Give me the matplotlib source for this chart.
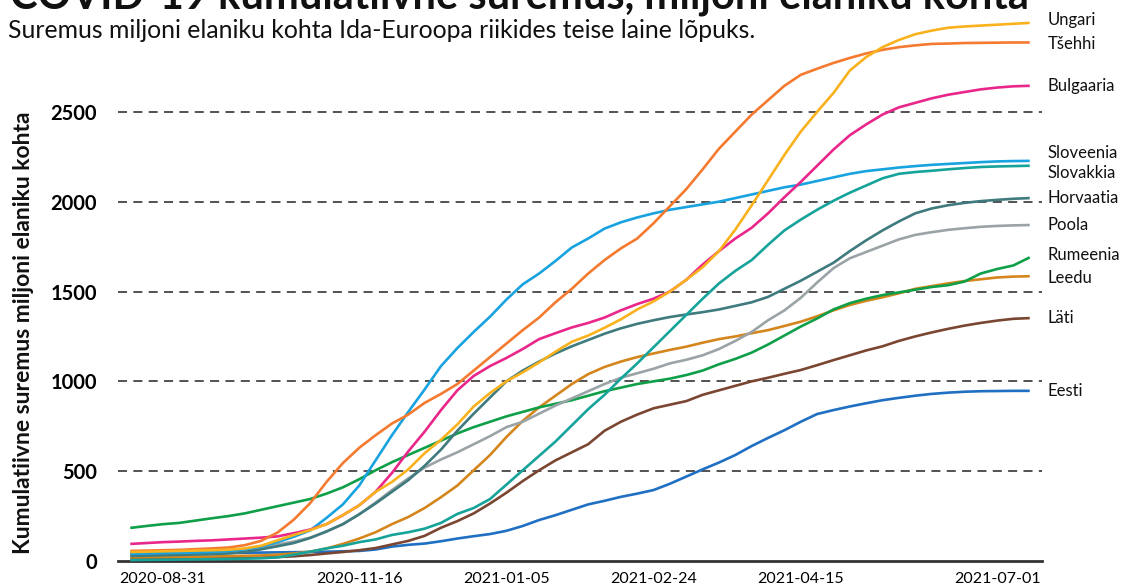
import matplotlib
matplotlib.use("Agg")
import matplotlib.pyplot as plt

plt.rcParams['font.family'] = ['Lato', 'DejaVu Sans']

# ---- data ----
dates = ["2020-08-19", "2020-08-25",
         "2020-08-31", "2020-09-07", "2020-09-13", "2020-09-20", "2020-09-26", "2020-10-03",
         "2020-10-09", "2020-10-16", "2020-10-22", "2020-10-29", "2020-11-04", "2020-11-10",
         "2020-11-16", "2020-11-22", "2020-11-27", "2020-12-03", "2020-12-08", "2020-12-14",
         "2020-12-19", "2020-12-25", "2020-12-30",
         "2021-01-05", "2021-01-11", "2021-01-16", "2021-01-22", "2021-01-27", "2021-02-02",
         "2021-02-07", "2021-02-13", "2021-02-18",
         "2021-02-24", "2021-03-02", "2021-03-07", "2021-03-13", "2021-03-18", "2021-03-24",
         "2021-03-29", "2021-04-04", "2021-04-09",
         "2021-04-15", "2021-04-22", "2021-04-28", "2021-05-05", "2021-05-11", "2021-05-18",
         "2021-05-24", "2021-05-31", "2021-06-06", "2021-06-13", "2021-06-19", "2021-06-25",
         "2021-07-01", "2021-07-07", "2021-07-13"]

tick_dates = ["2020-08-31", "2020-11-16", "2021-01-05", "2021-02-24", "2021-04-15", "2021-07-01"]

ungari = [50, 52, 54, 56, 58, 60, 63, 70, 85, 115, 145, 172, 205, 255, 310, 385, 440, 510,
          600, 675, 760, 860, 935, 1000, 1050, 1105, 1165, 1220, 1255, 1298, 1345, 1400,
          1445, 1500, 1565, 1635, 1725, 1845, 1980, 2120, 2260, 2390, 2500, 2605, 2730,
          2805, 2860, 2900, 2932, 2952, 2968, 2975, 2980, 2985, 2990, 2995]
tsehhi = [56, 58, 60, 62, 66, 70, 75, 88, 112, 158, 230, 322, 440, 545, 630, 700, 765, 815,
          880, 930, 985, 1060, 1135, 1210, 1285, 1355, 1440, 1515, 1600, 1675, 1740, 1795,
          1880, 1975, 2070, 2180, 2295, 2390, 2485, 2565, 2645, 2706, 2740, 2772, 2800,
          2825, 2845, 2860, 2870, 2878, 2880, 2883, 2884, 2885, 2886, 2886]
bulgaaria = [95, 100, 105, 108, 112, 115, 120, 125, 130, 137, 155, 175, 205, 255, 310, 385,
             490, 610, 720, 840, 950, 1030, 1085, 1130, 1180, 1235, 1268, 1300, 1325, 1355,
             1395, 1430, 1460, 1500, 1565, 1650, 1725, 1795, 1855, 1935, 2025, 2110, 2200,
             2290, 2370, 2430, 2485, 2525, 2550, 2575, 2595, 2610, 2625, 2635, 2642, 2645]
sloveenia = [40, 42, 44, 46, 48, 50, 55, 65, 80, 105, 135, 170, 240, 315, 420, 560, 700, 830,
             955, 1085, 1185, 1275, 1360, 1455, 1540, 1600, 1670, 1745, 1795, 1850, 1885,
             1912, 1935, 1955, 1970, 1985, 2000, 2020, 2040, 2060, 2080, 2095, 2115, 2135,
             2155, 2170, 2180, 2190, 2198, 2205, 2210, 2215, 2220, 2224, 2226, 2227]
slovakkia = [5, 6, 7, 8, 9, 10, 11, 13, 15, 20, 35, 52, 70, 85, 105, 120, 145, 160, 180, 212,
             262, 295, 345, 425, 505, 585, 665, 755, 845, 925, 1015, 1100, 1190, 1280, 1370,
             1460, 1545, 1615, 1675, 1760, 1840, 1900, 1955, 2005, 2050, 2090, 2130, 2155,
             2165, 2172, 2180, 2187, 2193, 2196, 2198, 2200]
horvaatia = [28, 30, 32, 34, 36, 38, 42, 50, 65, 82, 100, 128, 165, 205, 260, 320, 385, 450,
             530, 620, 725, 820, 910, 1000, 1060, 1110, 1155, 1195, 1230, 1265, 1295, 1320,
             1340, 1358, 1372, 1385, 1400, 1420, 1440, 1470, 1515, 1560, 1610, 1660, 1725,
             1785, 1840, 1890, 1935, 1962, 1980, 1993, 2003, 2010, 2016, 2020]
poola = [32, 34, 36, 38, 42, 46, 52, 62, 75, 92, 108, 130, 163, 205, 260, 325, 395, 460, 520,
         565, 605, 650, 695, 745, 775, 820, 865, 905, 945, 985, 1020, 1045, 1070, 1100, 1120,
         1145, 1180, 1225, 1275, 1340, 1395, 1465, 1550, 1630, 1685, 1720, 1755, 1790, 1815,
         1830, 1843, 1852, 1860, 1865, 1868, 1870]
rumeenia = [184, 195, 205, 212, 225, 238, 250, 265, 285, 305, 325, 345, 375, 410, 455, 505,
            550, 590, 630, 670, 710, 745, 775, 805, 830, 855, 875, 895, 920, 945, 965, 985,
            1000, 1015, 1035, 1060, 1095, 1125, 1160, 1205, 1255, 1305, 1350, 1400, 1435,
            1460, 1480, 1495, 1510, 1525, 1535, 1555, 1600, 1625, 1645, 1690]
leedu = [20, 21, 22, 23, 24, 25, 27, 29, 31, 35, 42, 52, 70, 95, 125, 160, 205, 245, 295,
         355, 420, 505, 590, 690, 780, 855, 920, 985, 1040, 1080, 1110, 1135, 1155, 1175,
         1193, 1215, 1235, 1250, 1268, 1285, 1308, 1332, 1362, 1395, 1425, 1448, 1468, 1490,
         1515, 1530, 1545, 1558, 1568, 1578, 1583, 1585]
lati = [10, 11, 12, 13, 14, 15, 16, 17, 19, 22, 26, 33, 42, 50, 60, 72, 92, 112, 140, 185,
        222, 265, 320, 380, 445, 505, 560, 605, 650, 725, 775, 815, 850, 870, 890, 925, 950,
        975, 1000, 1020, 1042, 1063, 1090, 1118, 1145, 1172, 1195, 1225, 1250, 1272, 1292,
        1310, 1325, 1338, 1348, 1352]
eesti = [42, 43, 43, 44, 44, 45, 45, 46, 47, 48, 49, 50, 52, 54, 56, 64, 80, 90, 97, 110,
         125, 138, 150, 168, 195, 228, 255, 285, 315, 335, 357, 375, 395, 430, 470, 510, 548,
         590, 640, 685, 728, 775, 818, 840, 860, 878, 895, 908, 920, 930, 937, 942, 945, 946,
         947, 947]

countries = ["Eesti", "Läti", "Leedu", "Rumeenia", "Poola", "Horvaatia", "Slovakkia",
             "Sloveenia", "Bulgaaria", "Tšehhi", "Ungari"]
series = [eesti, lati, leedu, rumeenia, poola, horvaatia, slovakkia, sloveenia, bulgaaria,
          tsehhi, ungari]

# ---- style ----
colors = {"Ungari": "#F9B21D", "Tšehhi": "#F47A2F", "Bulgaaria": "#E9268A",
          "Sloveenia": "#18A3E0", "Slovakkia": "#16A39A", "Horvaatia": "#3E7A7E",
          "Poola": "#9AA3A6", "Rumeenia": "#0E9F48", "Leedu": "#D4861D",
          "Läti": "#7A4631", "Eesti": "#1F6FC3"}
label_nudge_pt = {"Ungari": 2, "Sloveenia": 6, "Slovakkia": -5, "Rumeenia": 2,
                  "Leedu": -1, "Tšehhi": -1}

fig = plt.figure(figsize=(11.25, 5.88), dpi=100)
ax = fig.add_axes([118 / 1125, 27 / 588, (1042 - 118) / 1125, (561 - 22) / 588])

for name, vals in zip(countries, series):
    ax.plot(dates, vals, color=colors[name], lw=1.9, solid_joinstyle="round",
            solid_capstyle="butt", zorder=3, clip_on=False)
    ax.annotate(name, xy=(len(dates) - 1, vals[-1]), xycoords="data",
                xytext=(13, label_nudge_pt.get(name, 0)), textcoords="offset points",
                ha="left", va="center", fontsize=12, color="#111111",
                annotation_clip=False)

ax.set_ylim(0, 3000)
ax.set_xlim(-0.75, len(dates) - 1 + 0.75)
ax.set_yticks([0, 500, 1000, 1500, 2000, 2500])
ax.set_yticklabels(["0", "500", "1000", "1500", "2000", "2500"], fontsize=14.5,
                   fontweight="bold")
ax.set_xticks([dates.index(d) for d in tick_dates])
ax.set_xticklabels(tick_dates, fontsize=11.5)
ax.tick_params(axis="both", length=0)
ax.tick_params(axis="y", pad=15)
ax.tick_params(axis="x", pad=8)

for y in [500, 1000, 1500, 2000, 2500]:
    ax.axhline(y, color="#444444", lw=1.3, ls=(0, (5, 3.5)), zorder=1)

for s in ["top", "right", "left"]:
    ax.spines[s].set_visible(False)
ax.spines["bottom"].set_color("#333333")
ax.spines["bottom"].set_linewidth(2)

fig.text(24 / 1125, 1 - 333 / 588, "Kumulatiivne suremus miljoni elaniku kohta",
         fontsize=16.5, fontweight="bold", rotation=90, ha="center", va="center",
         color="#111111")

fig.text(10 / 1125, 1 - 8 / 588, "COVID-19 kumulatiivne suremus, miljoni elaniku kohta",
         fontsize=30, fontweight="bold", ha="left", va="baseline", color="#111111")
fig.text(8 / 1125, 1 - 38 / 588,
         "Suremus miljoni elaniku kohta Ida-Euroopa riikides teise laine lõpuks.",
         fontsize=17.8, ha="left", va="baseline", color="#111111")

fig.savefig("out.png", dpi=100)
